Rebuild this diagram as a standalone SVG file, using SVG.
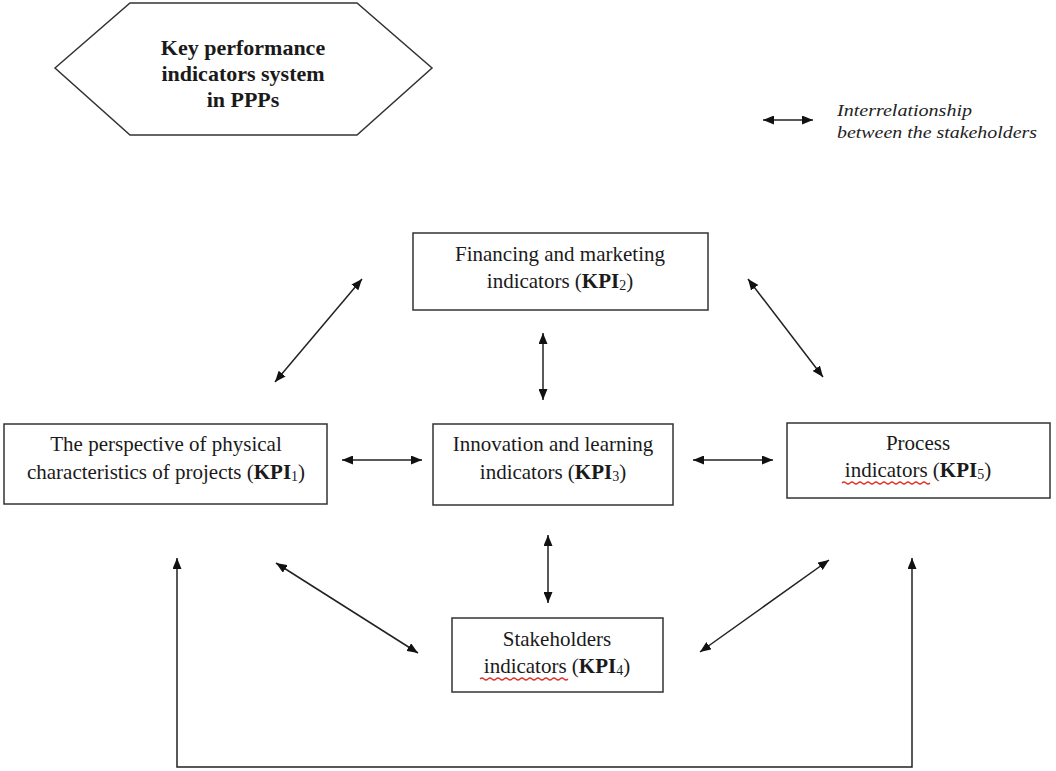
<svg xmlns="http://www.w3.org/2000/svg" width="1056" height="771" viewBox="0 0 1056 771">
<defs>
<marker id="ah" viewBox="0 0 11 9" refX="11" refY="4.5" markerWidth="11" markerHeight="9" markerUnits="userSpaceOnUse" orient="auto-start-reverse">
<path d="M0,0 L11,4.5 L0,9 z" fill="#111"/>
</marker>
<style>
.box{fill:#fff;stroke:#333;stroke-width:1.5}
.t{font-family:"Liberation Serif","Times New Roman",serif;font-size:21px;fill:#1a1a1a;text-anchor:middle}
.h{font-size:22px}
.b{font-weight:bold}
.sub{font-size:14px;font-weight:normal}
.c{fill:none;stroke:#222;stroke-width:1.5;marker-start:url(#ah);marker-end:url(#ah)}
.leg{font-family:"Liberation Serif","Times New Roman",serif;font-style:italic;font-size:16px;fill:#222}
.sq{fill:none;stroke:#e0302a;stroke-width:1.2}
</style>
</defs>
<rect width="1056" height="771" fill="#fff"/>

<g id="title">
<polygon class="box" points="55,68 130,3 357,3 432,68 357,135 130,135"/>
<text class="t b h" x="243" y="55">Key performance</text>
<text class="t b h" x="243" y="81">indicators system</text>
<text class="t b h" x="243" y="107">in PPPs</text>
</g>

<g id="legend">
<line class="c" x1="763" y1="120" x2="813" y2="120"/>
<text class="leg" x="837" y="116" textLength="135" lengthAdjust="spacingAndGlyphs">Interrelationship</text>
<text class="leg" x="837" y="138" textLength="200" lengthAdjust="spacingAndGlyphs">between the stakeholders</text>
</g>

<g id="kpi2">
<rect class="box" x="413" y="233" width="295" height="77"/>
<text class="t" x="560" y="261">Financing and marketing</text>
<text class="t" x="560" y="288">indicators (<tspan class="b">KPI</tspan><tspan class="sub" dy="2">2</tspan><tspan dy="-2">)</tspan></text>
</g>

<g id="kpi1">
<rect class="box" x="4" y="424" width="323" height="80"/>
<text class="t" x="166" y="451">The perspective of physical</text>
<text class="t" x="166" y="479">characteristics of projects (<tspan class="b">KPI</tspan><tspan class="sub" dy="2">1</tspan><tspan dy="-2">)</tspan></text>
</g>

<g id="kpi3">
<rect class="box" x="433" y="424" width="240" height="81"/>
<text class="t" x="553" y="451">Innovation and learning</text>
<text class="t" x="553" y="479">indicators (<tspan class="b">KPI</tspan><tspan class="sub" dy="2">3</tspan><tspan dy="-2">)</tspan></text>
</g>

<g id="kpi5">
<rect class="box" x="787" y="423" width="263" height="75"/>
<text class="t" x="918" y="450">Process</text>
<text class="t" x="918" y="477">indicators (<tspan class="b">KPI</tspan><tspan class="sub" dy="2">5</tspan><tspan dy="-2">)</tspan></text>
<path class="sq" d="M842,483 q2,-2 4,0 t4,0 t4,0 t4,0 t4,0 t4,0 t4,0 t4,0 t4,0 t4,0 t4,0 t4,0 t4,0 t4,0 t4,0 t4,0 t4,0 t4,0 t4,0 t4,0 t4,0 t4,0"/>
</g>

<g id="kpi4">
<rect class="box" x="452" y="618" width="211" height="74"/>
<text class="t" x="557" y="646">Stakeholders</text>
<text class="t" x="557" y="673">indicators (<tspan class="b">KPI</tspan><tspan class="sub" dy="2">4</tspan><tspan dy="-2">)</tspan></text>
<path class="sq" d="M480,679 q2,-2 4,0 t4,0 t4,0 t4,0 t4,0 t4,0 t4,0 t4,0 t4,0 t4,0 t4,0 t4,0 t4,0 t4,0 t4,0 t4,0 t4,0 t4,0 t4,0 t4,0 t4,0 t4,0"/>
</g>

<g id="connectors">
<line class="c" x1="275" y1="382" x2="362" y2="279"/>
<line class="c" x1="748" y1="279" x2="823" y2="377"/>
<line class="c" x1="543" y1="333" x2="543" y2="400"/>
<line class="c" x1="342" y1="460" x2="422" y2="460"/>
<line class="c" x1="693" y1="460" x2="773" y2="460"/>
<line class="c" x1="548" y1="535" x2="548" y2="603"/>
<line class="c" x1="276" y1="563" x2="418" y2="653"/>
<line class="c" x1="829" y1="560" x2="700" y2="652"/>
<path class="c" d="M177,558 L177,767 L912,767 L912,558"/>
</g>
</svg>
